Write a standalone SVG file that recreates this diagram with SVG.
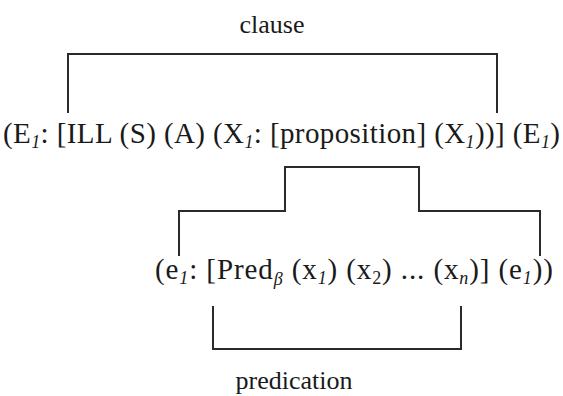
<svg xmlns="http://www.w3.org/2000/svg" width="563" height="396" viewBox="0 0 563 396">
<style>
text{font-family:"Liberation Serif","Times New Roman",serif;fill:#1a1a1a;font-size:29px}
.lbl{font-size:26px}
.sub{font-size:18px}
.it{font-style:italic}
.br{fill:none;stroke:#2a2a2a;stroke-width:2}
</style>
<rect width="563" height="396" fill="#fff"/>
<g id="label-clause"><text class="lbl" x="272" y="33" text-anchor="middle">clause</text></g>
<g id="clause-expr"><text x="3" y="143" textLength="557" lengthAdjust="spacing">(E<tspan class="sub it" dy="5">1</tspan><tspan dy="-5">: [ILL (S) (A) (X</tspan><tspan class="sub it" dy="5">1</tspan><tspan dy="-5">: [proposition] (X</tspan><tspan class="sub it" dy="5">1</tspan><tspan dy="-5">))] (E</tspan><tspan class="sub it" dy="5">1</tspan><tspan dy="-5">)</tspan></text></g>
<g id="pred-expr"><text x="155" y="279" textLength="398" lengthAdjust="spacing">(e<tspan class="sub it" dy="5">1</tspan><tspan dy="-5">: [Pred</tspan><tspan class="sub it" dy="6">β</tspan><tspan dy="-6"> (x</tspan><tspan class="sub it" dy="5">1</tspan><tspan dy="-5">) (x</tspan><tspan class="sub" dy="5">2</tspan><tspan dy="-5">) ... (x</tspan><tspan class="sub it" dy="5">n</tspan><tspan dy="-5">)] (e</tspan><tspan class="sub it" dy="5">1</tspan><tspan dy="-5">))</tspan></text></g>
<g id="label-predication"><text class="lbl" x="294" y="389" text-anchor="middle">predication</text></g>
<g id="connectors">
<path class="br" d="M68,113 V54 H497 V113"/>
<path class="br" d="M179,256 V211 H285 V167 H419 V211 H540 V256"/>
<path class="br" d="M213,306 V349 H461 V306"/>
</g>
</svg>
